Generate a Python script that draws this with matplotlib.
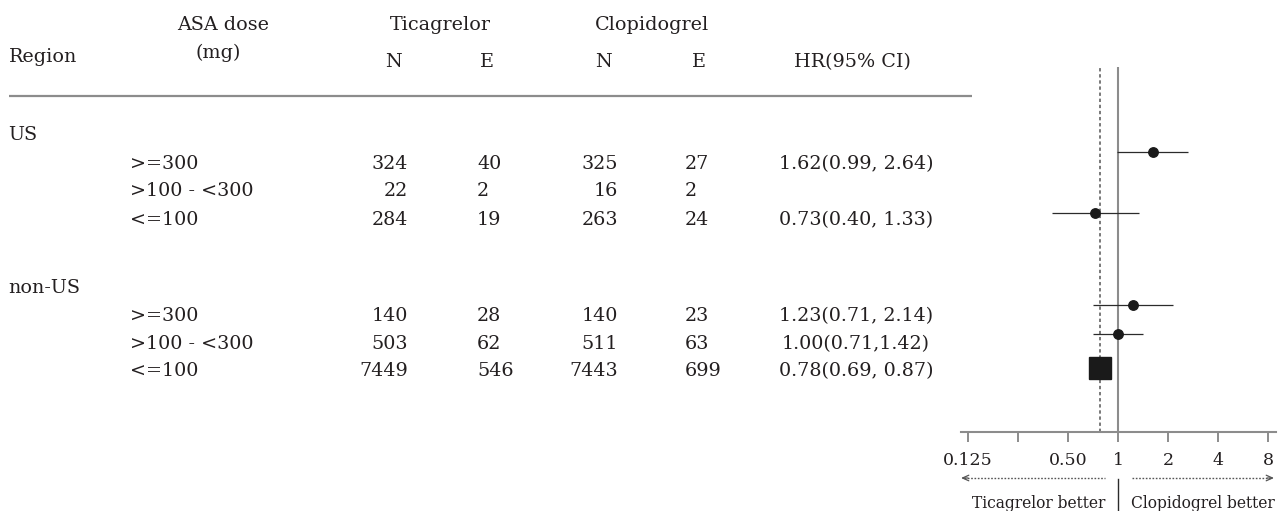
import matplotlib
matplotlib.use("Agg")
import matplotlib.pyplot as plt
from matplotlib.ticker import FixedLocator, FixedFormatter, NullLocator

# ---- data -------------------------------------------------------------
regions = ["US", "non-US"]
doses = [">=300", ">100 - <300", "<=100"]
tica_n = [324, 22, 284, 140, 503, 7449]
tica_e = [40, 2, 19, 28, 62, 546]
clop_n = [325, 16, 263, 140, 511, 7443]
clop_e = [27, 2, 24, 23, 63, 699]
hr = [1.62, None, 0.73, 1.23, 1.00, 0.78]
ci_lo = [0.99, None, 0.40, 0.71, 0.71, 0.69]
ci_hi = [2.64, None, 1.33, 2.14, 1.42, 0.87]
ci_sep = [" ", None, " ", " ", "", " "]
overall_hr = 0.78
x_ticks = [0.125, 0.25, 0.5, 1, 2, 4, 8]
x_tick_labels = ["0.125", "", "0.50", "1", "2", "4", "8"]

# ---- layout (pixel rows of a 1278 x 511 canvas) -----------------------
W, H = 1278, 511
region_y = [135, 288]
row_y = [164, 191, 220, 316, 344, 371]
mark_y = [152, None, 213, 305, 334, 368]
markers = ["o", None, "o", "o", "o", "s"]
marker_sizes = [6.8, None, 6.8, 6.8, 6.8, 16]

TXT = "#231f20"
GREY = "#8c8c8c"
DARK = "#2b2b2b"
FONT = "DejaVu Serif"
FS = 13.8

plt.rcParams["font.family"] = FONT

fig = plt.figure(figsize=(W / 100, H / 100), dpi=100)
fig.patch.set_facecolor("white")

# overlay axes in canvas pixels for the table
lay = fig.add_axes([0, 0, 1, 1])
lay.set_xlim(0, W)
lay.set_ylim(H, 0)
lay.axis("off")

def t(x, y, s, ha="left", fs=FS, **kw):
    lay.text(x, y, s, ha=ha, va="center", fontsize=fs, color=TXT, **kw)

# header
t(223, 25, "ASA dose", ha="center")
t(218, 53, "(mg)", ha="center")
t(9, 57, "Region")
t(440, 25, "Ticagrelor", ha="center")
t(652, 25, "Clopidogrel", ha="center")
t(393, 62, "N", ha="center")
t(487, 62, "E", ha="center")
t(603, 62, "N", ha="center")
t(699, 62, "E", ha="center")
t(852, 62, "HR(95% CI)", ha="center")
lay.plot([9, 972], [96, 96], color=GREY, lw=1.6, solid_capstyle="butt")

# body
for y, name in zip(region_y, regions):
    t(8, y, name)
for i, y in enumerate(row_y):
    t(130, y, doses[i % 3])
    t(408, y, str(tica_n[i]), ha="right")
    t(477, y, str(tica_e[i]))
    t(618, y, str(clop_n[i]), ha="right")
    t(685, y, str(clop_e[i]))
    if hr[i] is not None:
        t(856, y, f"{hr[i]:.2f}({ci_lo[i]:.2f},{ci_sep[i]}{ci_hi[i]:.2f})",
          ha="center")

# ---- forest plot ------------------------------------------------------
x0, x1, y_top, y_axis = 961, 1276, 67, 432
fax = fig.add_axes([x0 / W, (H - y_axis) / H, (x1 - x0) / W, (y_axis - y_top) / H])
fax.set_xscale("log", base=2)
fax.set_xlim(2 ** -3.14, 2 ** 3.16)
fax.set_ylim(y_axis, y_top)
fax.patch.set_alpha(0)
for s in ("left", "right", "top"):
    fax.spines[s].set_visible(False)
fax.spines["bottom"].set_color(GREY)
fax.spines["bottom"].set_linewidth(1.5)
fax.yaxis.set_major_locator(NullLocator())
fax.xaxis.set_major_locator(FixedLocator(x_ticks))
fax.xaxis.set_major_formatter(FixedFormatter(x_tick_labels))
fax.xaxis.set_minor_locator(NullLocator())
fax.tick_params(axis="x", direction="out", length=7.2, width=1.4, color=GREY,
                labelsize=12.5, labelcolor=TXT, pad=7)

fax.axvline(1, color=GREY, lw=1.5, zorder=1)
fax.axvline(overall_hr, color="#555555", lw=1.1, ls=(0, (2.2, 1.8)), zorder=1)

for i in range(len(hr)):
    if hr[i] is None:
        continue
    fax.plot([ci_lo[i], ci_hi[i]], [mark_y[i], mark_y[i]], color=DARK, lw=0.9,
             zorder=2, solid_capstyle="butt")
    fax.plot([hr[i]], [mark_y[i]], marker=markers[i], ms=marker_sizes[i],
             color="#1a1a1a", mec="#1a1a1a", ls="none", zorder=3)

# direction arrows and labels beneath the axis
ay = 478
lay.plot([964, 1105], [ay, ay], color="#555555", lw=1.0, ls=(0, (1.2, 1.2)))
lay.plot([1132, 1271], [ay, ay], color="#555555", lw=1.0, ls=(0, (1.2, 1.2)))
lay.annotate("", xy=(961, ay), xytext=(968, ay),
             arrowprops=dict(arrowstyle="->,head_length=0.45,head_width=0.2",
                             color="#555555", lw=0.9, shrinkA=0, shrinkB=0))
lay.annotate("", xy=(1274, ay), xytext=(1267, ay),
             arrowprops=dict(arrowstyle="->,head_length=0.45,head_width=0.2",
                             color="#555555", lw=0.9, shrinkA=0, shrinkB=0))
lay.plot([1118, 1118], [479, 511], color=DARK, lw=1.0)
t(1105, 503, "Ticagrelor better", ha="right", fs=11.2)
t(1131, 503, "Clopidogrel better", fs=11.2)

fig.savefig("out.png", dpi=100, facecolor="white")
